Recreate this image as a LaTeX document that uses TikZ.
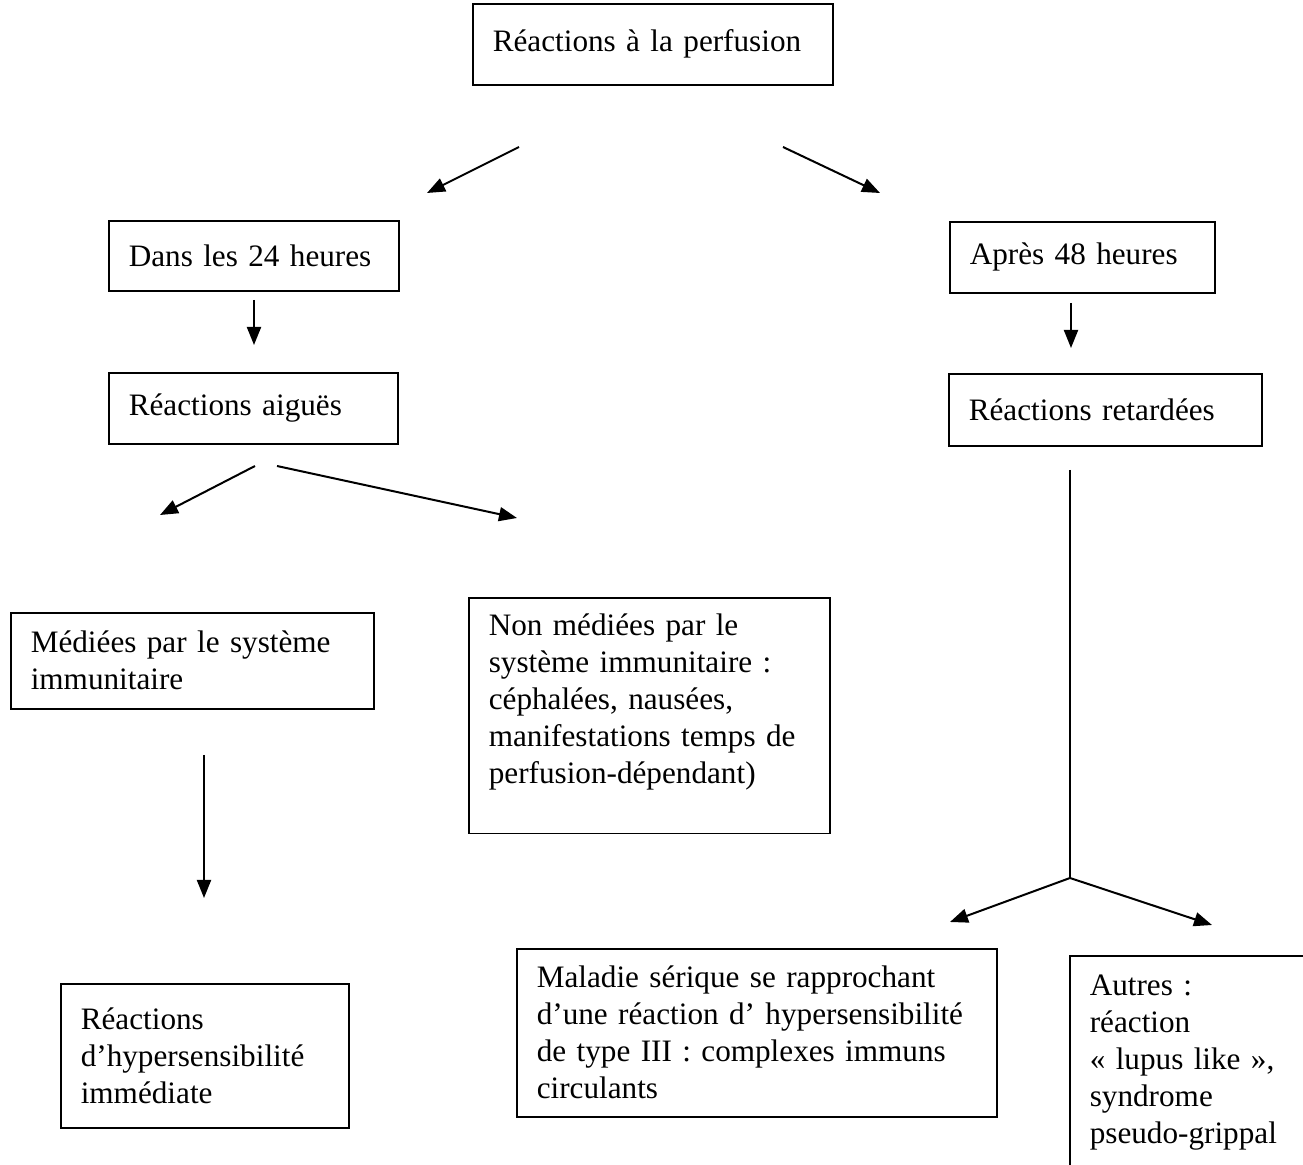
\documentclass[tikz,border=0pt]{standalone}
\usepackage{fontspec}
\setmainfont{Liberation Serif}
\usetikzlibrary{arrows.meta}
\begin{document}
\begin{tikzpicture}[x=0.5pt,y=-0.5pt]
        \tikzstyle{box}=[draw=black, line width=0.8pt, anchor=north west, align=left, inner xsep=10pt, inner ysep=8pt, font=\fontsize{15.6}{18.5}\selectfont]
        \tikzstyle{arr}=[line width=1pt, -{Triangle[length=9pt,width=7pt]}]

        \useasboundingbox[fill=white] (0,0) rectangle (1303,1165);
        \clip (0,0) rectangle (1303,1165);

        % Nodes
        \node[box, text width=160pt, minimum height=40.5pt] (perf) at (472,3) {Réactions à la perfusion};

        \node[box, text width=125pt, minimum height=35pt] (dans) at (108,220) {Dans les 24 heures};
        \node[box, text width=112.5pt, minimum height=35.5pt] (apres) at (949,221) {Après 48 heures};

        \node[box, text width=124.5pt, minimum height=35.5pt] (aigues) at (108,372) {Réactions aiguës};
        \node[box, text width=136.5pt, minimum height=36pt] (retard) at (948,373) {Réactions retardées};

        \node[box, text width=161.5pt, minimum height=48pt] (immun) at (10,612) {Médiées par le système\\immunitaire};
        \node[box, text width=160.5pt, text depth=91pt] (nonimmun) at (468,597) {Non médiées par le\\système immunitaire :\\céphalées, nausées,\\manifestations temps de\\perfusion-dépendant)};

        \node[box, text width=124pt, minimum height=72pt] (hyper) at (60,983) {Réactions\\d’hypersensibilité\\immédiate};
        \node[box, text width=220pt, minimum height=84pt] (serique) at (516,948) {Maladie sérique se rapprochant\\d’une réaction d’ hypersensibilité\\de type III : complexes immuns\\circulants};
        \node[box, text width=110pt, minimum height=107pt] (autres) at (1069,955) {Autres :\\réaction\\« lupus like »,\\syndrome\\pseudo-grippal};

        % Free ends of the arrows
        \coordinate (perfL) at (519,147);  \coordinate (dansT) at (427,193);
        \coordinate (perfR) at (783,147);  \coordinate (apresT) at (880,193);
        \coordinate (dansB) at (254,300);  \coordinate (aiguesT) at (254,345);
        \coordinate (apresB) at (1071,303); \coordinate (retardT) at (1071,348);
        \coordinate (aiguesL) at (255,466); \coordinate (immunT) at (160,515);
        \coordinate (aiguesR) at (277,466); \coordinate (nonimmunT) at (517,518);
        \coordinate (immunB) at (204,755);  \coordinate (hyperT) at (204,898);
        \coordinate (retardB) at (1070,470); \coordinate (fork) at (1070,878);
        \coordinate (seriqueT) at (950,922); \coordinate (autresT) at (1212,925);

        % Edges
        \draw[arr] (perfL) -- (dansT);
        \draw[arr] (perfR) -- (apresT);
        \draw[arr] (dansB) -- (aiguesT);
        \draw[arr] (apresB) -- (retardT);
        \draw[arr] (aiguesL) -- (immunT);
        \draw[arr] (aiguesR) -- (nonimmunT);
        \draw[arr] (immunB) -- (hyperT);

        \draw[line width=1pt] (retardB) -- (fork);
        \draw[arr] (fork) -- (seriqueT);
        \draw[arr] (fork) -- (autresT);

    \end{tikzpicture}
\end{document}
